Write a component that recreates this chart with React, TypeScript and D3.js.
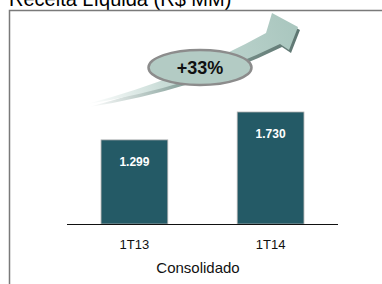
import React from 'react';
import * as d3 from 'd3';

const categories = ['1T13', '1T14'];
const values = [1299, 1730];
const valueLabels = ['1.299', '1.730'];
const growthLabel = '+33%';
const title = 'Receita Líquida (R$ MM)';
const xTitle = 'Consolidado';

const W = 382;
const H = 284;

const App = () => {
  const x = d3.scaleBand<string>()
    .domain(categories)
    .range([67, 338])
    .paddingInner(0.51)
    .paddingOuter(0.25);

  const y = d3.scaleLinear()
    .domain([0, 1730])
    .range([224, 112]);

  // curved growth arrow
  const arrow = d3.path();
  arrow.moveTo(87, 104);
  arrow.quadraticCurveTo(185, 78, 266, 33);
  arrow.lineTo(272, 13);
  arrow.lineTo(298, 27);
  arrow.lineTo(289, 50);
  arrow.lineTo(280, 44);
  arrow.quadraticCurveTo(190, 88, 87, 104);
  arrow.closePath();

  return (
    <svg width={W} height={H} style={{ position: 'absolute', left: 0, top: 0, display: 'block' }}
      fontFamily="Arial, 'Liberation Sans', sans-serif">
      <defs>
        <linearGradient id="arrowFill" x1="87" y1="104" x2="298" y2="27" gradientUnits="userSpaceOnUse">
          <stop offset="0" stopColor="#ffffff" />
          <stop offset="0.35" stopColor="#c9dcd7" />
          <stop offset="1" stopColor="#a9c6be" />
        </linearGradient>
        <linearGradient id="arrowShadow" x1="87" y1="104" x2="298" y2="27" gradientUnits="userSpaceOnUse">
          <stop offset="0" stopColor="#ffffff" />
          <stop offset="0.4" stopColor="#8fa8a2" />
          <stop offset="1" stopColor="#5d7570" />
        </linearGradient>
      </defs>
      <rect width={W} height={H} fill="#fff" />
      <text x={9} y={6} fontSize={20} fill="#000">{title}</text>
      <path d={`M9.5,${H} V10.5 H${W}`} fill="none" stroke="#7a7a7a" strokeWidth={1.5} />

      <path d={arrow.toString()} transform="translate(2,3)" fill="url(#arrowShadow)" />
      <path d={arrow.toString()} fill="url(#arrowFill)" />

      <ellipse cx={200} cy={67.5} rx={51.5} ry={17.5} fill="#b3cbc4" stroke="#8c8c8c" strokeWidth={2.5} />
      <text x={200} y={74} textAnchor="middle" fontSize={18} fontWeight="bold" fill="#111">{growthLabel}</text>

      {categories.map((c, i) => (
        <g key={c}>
          <rect x={x(c)} y={y(values[i])} width={x.bandwidth()} height={y(0) - y(values[i])}
            fill="#245a66" stroke="#b0b0b0" strokeWidth={0.8} />
          <text x={x(c)! + x.bandwidth() / 2} y={y(values[i]) + 26} textAnchor="middle"
            fontSize={12} fontWeight="bold" fill="#fff">{valueLabels[i]}</text>
          <text x={x(c)! + x.bandwidth() / 2} y={249} textAnchor="middle" fontSize={13} fill="#111">{c}</text>
        </g>
      ))}
      <line x1={67} x2={338} y1={224.5} y2={224.5} stroke="#111" strokeWidth={1.2} />
      <text x={198} y={273} textAnchor="middle" fontSize={15} fill="#111">{xTitle}</text>
    </svg>
  );
};

export default App;
